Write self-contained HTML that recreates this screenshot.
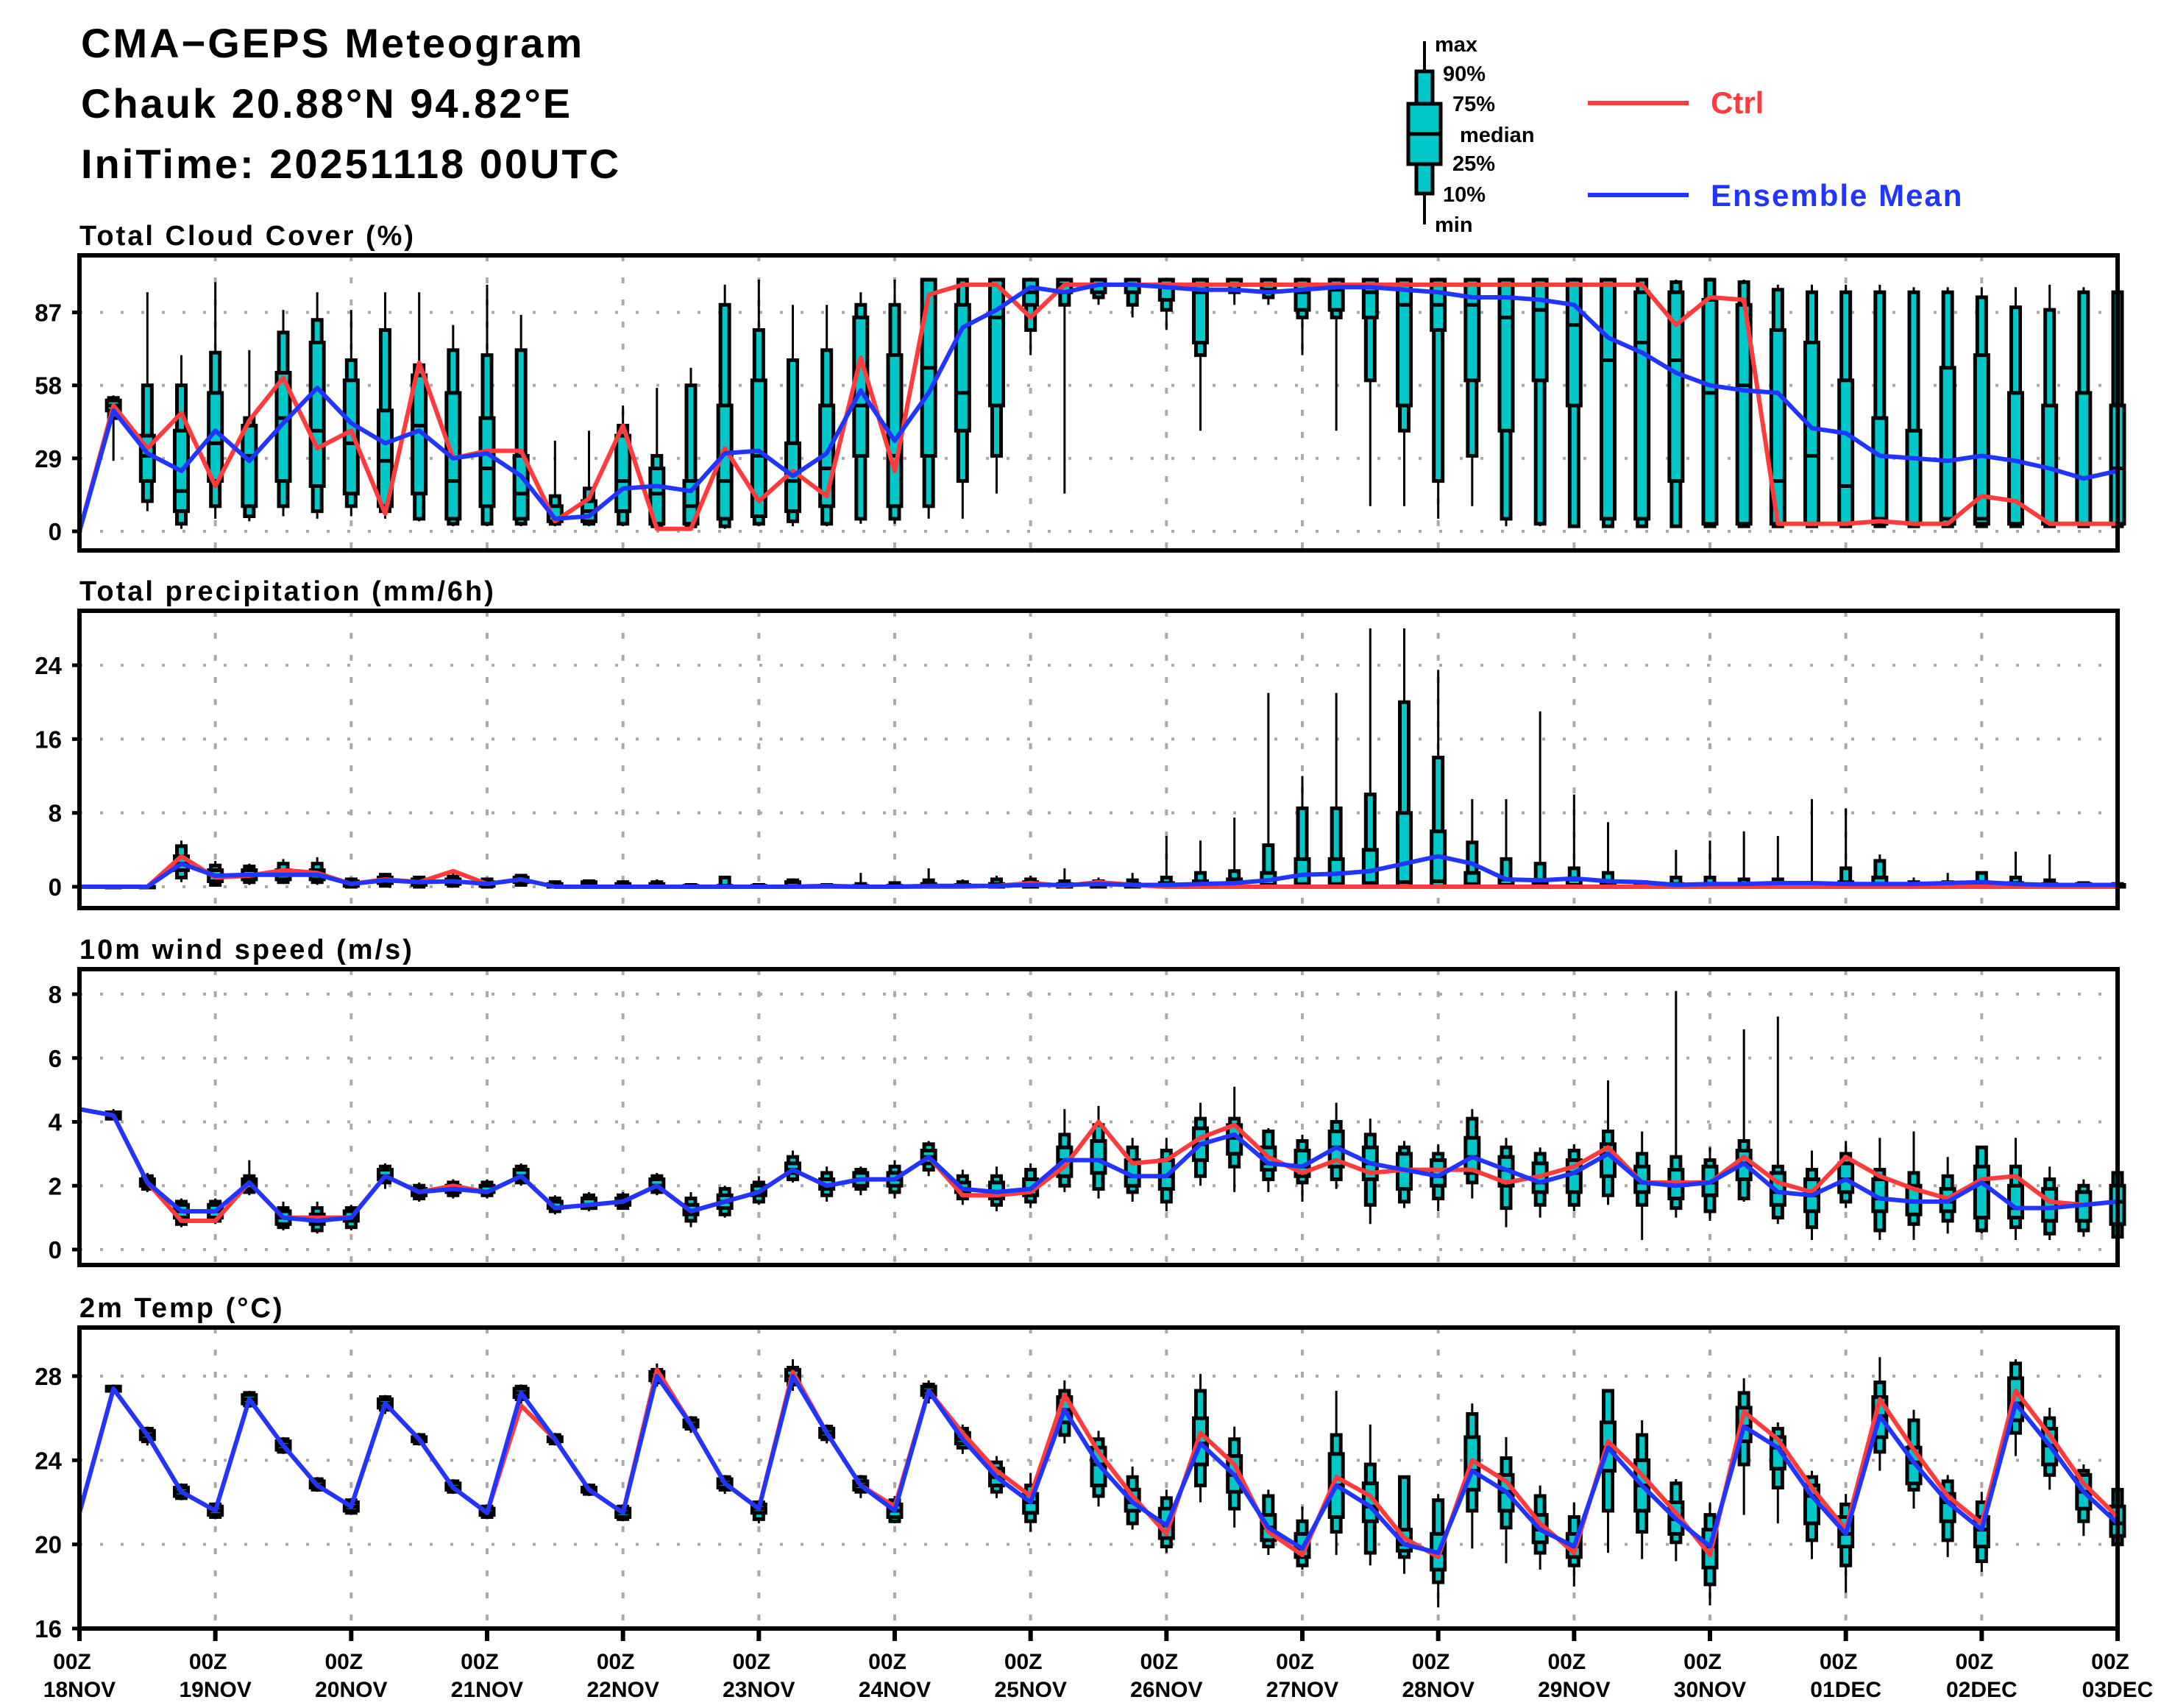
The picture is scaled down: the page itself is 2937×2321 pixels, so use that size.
<!DOCTYPE html>
<html><head><meta charset="utf-8"><style>
html,body{margin:0;padding:0;background:#fff;}
svg{display:block;}
text{font-family:"Liberation Sans",sans-serif;}
</style></head><body>
<svg id="chart" width="2937" height="2321" viewBox="0 0 2937 2321" xmlns="http://www.w3.org/2000/svg">
<rect x="0" y="0" width="2937" height="2321" fill="#fff"/>
<g font-size="56" font-weight="bold" fill="#000" letter-spacing="3">
<text x="110" y="78">CMA−GEPS Meteogram</text>
<text x="110" y="160">Chauk 20.88°N 94.82°E</text>
<text x="110" y="242">IniTime: 20251118 00UTC</text>
</g>
<g>
<g>
<line x1="1936" y1="56" x2="1936" y2="305" stroke="#000" stroke-width="4"/>
<rect x="1925" y="97" width="22" height="166" fill="#00c8c8" stroke="#000" stroke-width="5"/>
<rect x="1914" y="141" width="44" height="82" fill="#00c8c8" stroke="#000" stroke-width="5"/>
<line x1="1914" y1="182" x2="1958" y2="182" stroke="#000" stroke-width="5"/>
</g>
<g font-size="29" font-weight="bold" fill="#000">
<text x="1950" y="70">max</text>
<text x="1961" y="110">90%</text>
<text x="1974" y="151">75%</text>
<text x="1984" y="193">median</text>
<text x="1974" y="232">25%</text>
<text x="1961" y="274">10%</text>
<text x="1950" y="315">min</text>
</g>
<line x1="2158" y1="140" x2="2295" y2="140" stroke="#ff3b3b" stroke-width="6"/>
<text x="2325" y="154" font-size="42" font-weight="bold" fill="#ff3b3b">Ctrl</text>
<line x1="2158" y1="265" x2="2295" y2="265" stroke="#2036ff" stroke-width="6"/>
<text x="2325" y="280" font-size="42" font-weight="bold" fill="#2036ff" letter-spacing="2">Ensemble Mean</text>
</g>
<g id="plots"></g>
</svg>
<script>
// ---------- data ----------
const steps = 61;
const dayLabels = ["18NOV","19NOV","20NOV","21NOV","22NOV","23NOV","24NOV","25NOV","26NOV","27NOV","28NOV","29NOV","30NOV","01DEC","02DEC","03DEC"];

// Cloud cover
const ccTicks = [0,29,58,87];
const ccCtrl = [0,50,33,47,18,44,61,33,40,7,67,29,32,32,4,13,42,1,1,33,12,24,14,69,24,94,98,98,85,98,98,98,98,98,98,98,98,98,98,98,98,98,98,98,98,98,98,82,93,92,3,3,3,4,3,3,14,12,3,3,3];
const ccMean = [0,48,31,24,40,28,43,57,43,35,40,29,31,22,5,6,17,18,16,31,32,22,31,56,36,55,81,88,97,95,98,98,97,96,96,95,96,97,97,96,95,93,93,92,90,77,71,63,58,56,55,41,39,30,29,28,30,28,25,21,24];
const ccMin = [null,28,8,1,5,4,6,5,6,5,4,2,2,2,2,2,2,1,1,1,2,2,2,3,3,5,5,15,70,15,90,85,80,40,90,90,70,40,10,10,5,10,2,2,2,2,2,2,2,2,2,2,2,2,2,2,2,2,2,2,2];
const ccP10 = [null,45,12,3,10,6,10,8,10,8,5,3,3,3,3,3,3,2,2,2,3,4,3,5,5,10,20,30,80,90,93,90,88,70,95,93,85,85,60,40,20,30,5,3,2,2,2,2,2,2,2,2,2,2,2,2,2,2,2,2,2];
const ccP25 = [null,48,20,8,20,10,20,18,15,10,15,5,10,5,4,4,8,3,3,5,6,8,10,30,10,30,40,50,90,95,95,95,92,75,98,96,88,88,85,50,80,60,40,60,50,5,5,20,3,3,3,3,3,3,3,3,3,3,3,3,3];
const ccMed = [null,50,30,16,35,30,45,40,35,28,42,20,25,15,4,8,20,15,10,20,30,20,25,50,30,65,55,85,95,98,98,98,98,95,100,98,95,96,95,90,90,90,85,88,82,68,75,68,55,58,20,30,18,5,3,5,5,3,3,3,25];
const ccP75 = [null,52,38,40,55,42,63,75,60,48,62,55,45,30,10,12,38,25,20,50,60,35,50,85,70,100,90,100,100,100,100,100,100,100,100,100,100,100,100,100,100,100,100,100,100,100,95,95,92,90,80,75,60,45,40,65,70,55,50,55,50];
const ccP90 = [null,53,58,58,71,45,79,84,68,80,66,72,70,72,14,17,42,30,58,90,80,68,72,90,90,100,100,100,100,100,100,100,100,100,100,100,100,100,100,100,100,100,100,100,100,100,100,99,100,99,96,95,95,95,95,95,93,89,88,95,95];
const ccMax = [null,54,95,70,99,72,88,95,88,95,95,82,98,86,36,40,50,57,65,98,100,90,90,95,100,100,100,100,100,100,100,100,100,100,100,100,100,100,100,100,100,100,100,100,100,100,100,100,100,100,98,98,98,98,97,97,97,97,98,97,95];

// Precipitation
const prTicks = [0,8,16,24];
const prCtrl = [0,0,0,3.3,1.0,1.2,1.8,1.5,0.3,0.8,0.5,1.7,0.3,0.8,0,0,0,0,0,0,0,0,0,0,0,0,0,0.1,0.4,0.1,0.5,0.2,0,0,0,0,0,0,0,0,0,0,0,0,0,0,0,0,0,0,0,0,0,0,0,0,0,0,0,0,0];
const prMean = [0,0,0,2.5,1.2,1.3,1.3,1.3,0.3,0.7,0.5,0.6,0.3,0.8,0,0,0,0,0,0,0,0,0.1,0,0,0.1,0.1,0.1,0.2,0.2,0.3,0.2,0.2,0.3,0.4,0.7,1.3,1.4,1.7,2.5,3.3,2.5,0.8,0.7,0.9,0.6,0.5,0.2,0.3,0.3,0.4,0.4,0.3,0.3,0.3,0.4,0.5,0.3,0.2,0.2,0.2];
const prMin = [null,0,0,0.5,0,0.2,0.3,0.2,0,0,0,0,0,0,0,0,0,0,0,0,0,0,0,0,0,0,0,0,0,0,0,0,0,0,0,0,0,0,0,0,0,0,0,0,0,0,0,0,0,0,0,0,0,0,0,0,0,0,0,0,0];
const prP10 = [null,0,0,1.0,0.2,0.5,0.5,0.5,0,0.1,0,0.1,0,0.2,0,0,0,0,0,0,0,0,0,0,0,0,0,0,0,0,0,0,0,0,0,0,0,0,0,0,0,0,0,0,0,0,0,0,0,0,0,0,0,0,0,0,0,0,0,0,0];
const prP25 = [null,0,0,1.8,0.6,0.8,0.8,0.8,0.1,0.4,0.2,0.3,0.1,0.5,0,0.1,0,0,0,0,0,0,0,0,0,0,0,0,0,0,0,0,0,0,0,0,0,0,0,0,0,0,0,0,0,0,0,0,0,0,0,0,0,0,0,0,0,0,0,0,0];
const prMed = [null,0,0,2.5,1.2,1.3,1.3,1.3,0.3,0.7,0.4,0.5,0.2,0.7,0.1,0.2,0.1,0.1,0,0,0,0,0.1,0,0,0,0.1,0,0.2,0,0.1,0,0,0,0,0.2,0.3,0.3,0.4,0.5,0.6,0.3,0.2,0.1,0.2,0.1,0,0,0,0,0,0,0.1,0.2,0,0,0.2,0.1,0.1,0,0];
const prP75 = [null,0,0,3.3,1.8,1.8,1.8,1.8,0.6,1.0,0.8,0.8,0.5,1.0,0.3,0.5,0.3,0.3,0.1,0.1,0.1,0.5,0.1,0.1,0.1,0.3,0.2,0.3,0.5,0.3,0.3,0.3,0.4,0.6,0.8,1.5,3.0,3.0,4.0,8.0,6.0,1.5,0.8,0.5,0.8,0.5,0.2,0.3,0.3,0.3,0.3,0.3,0.5,1.0,0.2,0.2,0.5,0.4,0.3,0.3,0.2];
const prP90 = [null,0,0,4.4,2.3,2.2,2.5,2.5,0.8,1.3,1.0,1.1,0.8,1.2,0.5,0.6,0.5,0.5,0.2,1.0,0.2,0.7,0.2,0.3,0.4,0.7,0.5,0.8,0.8,0.6,0.6,0.7,1.0,1.5,1.7,4.5,8.5,8.5,10,20,14,4.8,3.0,2.5,2.0,1.5,0.5,1.0,1.0,0.8,0.8,0.4,2.0,2.8,0.5,0.5,1.5,1.0,0.7,0.4,0.3];
const prMax = [null,0,0,5.0,2.8,2.5,3.0,3.2,1.0,1.5,1.2,1.5,1.0,1.3,0.7,0.8,0.6,0.8,0.3,1.2,0.3,0.9,0.3,1.5,0.5,2.0,0.8,1.2,1.2,2.0,1.0,1.5,5.5,5.0,7.5,21,12,21,28,28,23.5,9.5,9.5,19,10,7,0.5,4,5,6,5.5,9.5,8.5,3.5,1,1.5,1.5,3.8,3.5,0.5,0.3];

// Wind speed
const wsTicks = [0,2,4,6,8];
const wsCtrl = [4.4,4.2,2.1,0.9,0.9,2.1,1.0,1.0,1.0,2.3,1.8,2.0,1.8,2.3,1.3,1.4,1.5,2.0,1.2,1.5,1.8,2.5,2.0,2.2,2.2,2.9,1.7,1.7,1.8,2.6,4.0,2.7,2.8,3.5,3.9,2.9,2.4,2.8,2.4,2.5,2.5,2.5,2.1,2.3,2.6,3.2,2.1,2.1,2.1,2.9,2.1,1.8,2.9,2.3,1.9,1.6,2.2,2.3,1.5,1.4,1.5];
const wsMean = [4.4,4.2,2.1,1.2,1.2,2.1,1.0,0.9,1.0,2.3,1.8,1.9,1.8,2.3,1.3,1.4,1.5,2.0,1.2,1.5,1.8,2.5,2.0,2.2,2.2,2.9,1.9,1.8,1.9,2.8,2.8,2.3,2.3,3.3,3.6,2.7,2.6,3.2,2.7,2.5,2.3,2.9,2.5,2.1,2.4,3.0,2.1,2.0,2.1,2.7,1.8,1.7,2.2,1.6,1.5,1.5,2.1,1.3,1.3,1.4,1.5];
const wsMin = [null,4.1,1.8,0.7,0.8,1.7,0.6,0.5,0.6,1.9,1.5,1.6,1.6,2.0,1.1,1.2,1.3,1.7,0.7,1.0,1.4,2.1,1.5,1.7,1.6,2.3,1.4,1.2,1.3,1.8,1.6,1.5,1.2,2.0,1.8,1.8,1.5,1.9,0.8,1.3,1.2,1.6,0.7,1.0,1.2,1.4,0.3,1.0,0.9,1.5,0.8,0.3,1.3,0.3,0.3,0.5,0.5,0.3,0.3,0.4,0.2];
const wsP10 = [null,4.1,1.9,0.8,0.9,1.8,0.7,0.6,0.7,2.1,1.6,1.7,1.7,2.1,1.2,1.3,1.3,1.8,0.9,1.1,1.5,2.2,1.7,1.9,1.8,2.5,1.6,1.4,1.5,2.0,1.9,1.8,1.5,2.3,2.6,2.2,2.1,2.2,1.4,1.5,1.6,2.1,1.3,1.4,1.4,1.7,1.4,1.3,1.2,1.6,1.0,0.7,1.5,0.6,0.8,0.9,0.6,0.7,0.5,0.6,0.4];
const wsP25 = [null,4.1,2.0,1.0,1.0,1.9,0.8,0.8,0.9,2.2,1.7,1.8,1.8,2.2,1.3,1.3,1.4,1.9,1.1,1.3,1.7,2.4,1.9,2.0,2.0,2.7,1.8,1.6,1.7,2.3,2.4,2.0,1.9,2.8,3.0,2.5,2.3,2.6,2.2,1.9,2.0,2.4,2.0,1.8,1.8,2.3,1.8,1.6,1.7,2.2,1.4,1.2,1.8,1.2,1.1,1.2,1.0,1.0,0.9,0.9,0.8];
const wsMed = [null,4.2,2.1,1.2,1.2,2.1,1.0,0.9,1.0,2.3,1.8,1.9,1.8,2.3,1.3,1.4,1.5,2.0,1.2,1.5,1.8,2.5,2.0,2.2,2.2,2.9,1.9,1.8,1.9,2.8,2.8,2.3,2.3,3.3,3.5,2.7,2.6,3.2,2.7,2.5,2.3,2.9,2.5,2.1,2.4,3.0,2.1,2.0,2.1,2.7,1.8,1.7,2.2,1.6,1.5,1.5,2.1,1.3,1.3,1.4,1.5];
const wsP75 = [null,4.3,2.2,1.4,1.4,2.2,1.2,1.1,1.2,2.5,1.9,2.0,2.0,2.5,1.5,1.6,1.6,2.2,1.4,1.7,2.0,2.7,2.2,2.4,2.4,3.1,2.1,2.1,2.2,3.2,3.4,2.8,2.8,3.8,3.9,3.2,3.1,3.7,3.2,3.0,2.8,3.5,2.9,2.7,2.8,3.3,2.6,2.5,2.6,3.1,2.4,2.2,2.7,2.2,2.0,1.9,2.6,2.0,1.9,1.8,2.0];
const wsP90 = [null,4.3,2.3,1.5,1.5,2.3,1.3,1.3,1.3,2.6,2.0,2.1,2.1,2.6,1.6,1.7,1.7,2.3,1.6,1.9,2.1,2.9,2.4,2.5,2.6,3.3,2.3,2.3,2.5,3.6,3.9,3.2,3.1,4.1,4.1,3.7,3.4,4.0,3.6,3.2,3.0,4.1,3.2,3.0,3.1,3.7,3.0,2.9,2.8,3.4,2.6,2.5,3.0,2.5,2.4,2.3,3.2,2.6,2.2,2.0,2.4];
const wsMax = [null,4.4,2.4,1.6,1.6,2.8,1.5,1.5,1.4,2.7,2.1,2.2,2.2,2.7,1.7,1.8,1.8,2.4,1.8,2.0,2.3,3.1,2.6,2.6,2.8,3.4,2.5,2.6,2.7,4.4,4.5,3.5,3.5,4.6,5.1,3.8,3.6,4.6,4.1,3.4,3.3,4.4,3.5,3.2,3.3,5.3,3.7,8.1,3.2,6.9,7.3,3.1,3.4,3.5,3.7,2.9,3.2,3.5,2.6,2.2,2.4];

// 2m temperature
const tTicks = [16,20,24,28];
const tCtrl = [21.5,27.4,25.2,22.5,21.6,26.9,24.7,22.8,21.8,26.7,25.0,22.7,21.5,26.6,25.0,22.6,21.5,28.3,25.7,22.9,21.7,28.2,25.3,22.8,21.8,27.3,25.3,23.5,22.3,27.1,24.4,22.3,20.5,25.3,23.8,20.6,19.5,23.2,22.3,20.3,19.4,24.0,23.0,21.0,19.6,24.9,23.3,21.5,19.5,26.3,25.0,22.7,20.7,26.9,24.5,22.3,21.0,27.3,25.2,22.9,21.3];
const tMean = [21.5,27.4,25.2,22.5,21.6,26.9,24.7,22.8,21.8,26.7,25.0,22.7,21.5,27.2,25.0,22.6,21.5,28.0,25.7,22.9,21.7,28.0,25.3,22.8,21.6,27.3,25.0,23.2,22.0,26.4,23.8,22.0,20.9,24.8,23.3,20.8,19.8,22.8,21.8,20.0,19.6,23.5,22.5,20.7,19.9,24.6,22.8,21.2,19.9,25.6,24.6,22.3,20.5,26.1,23.9,22.0,20.7,26.7,24.7,22.5,21.0];
const tMin = [null,27.2,24.7,22.1,21.2,26.5,24.3,22.5,21.4,26.2,24.7,22.4,21.2,26.7,24.7,22.3,21.1,27.5,25.3,22.4,21.0,27.3,24.8,22.2,21.0,26.7,24.3,22.2,20.6,24.8,21.8,20.7,19.6,22.0,20.8,19.5,18.8,19.5,19.0,18.6,17.0,19.8,19.1,18.8,18.0,19.6,19.3,19.2,17.1,21.4,21.0,19.3,17.7,23.5,21.7,19.4,18.7,24.2,22.6,20.4,19.5];
const tP10 = [null,27.3,24.9,22.2,21.3,26.6,24.4,22.6,21.5,26.4,24.8,22.5,21.3,26.9,24.8,22.4,21.2,27.7,25.5,22.6,21.2,27.6,25.0,22.5,21.1,27.0,24.6,22.5,21.1,25.2,22.3,21.0,19.9,22.8,21.7,19.9,19.0,20.6,19.6,19.4,18.2,21.6,20.8,19.6,19.0,21.6,20.6,20.1,18.1,23.8,22.7,20.2,19.0,24.4,22.6,20.2,19.2,25.3,23.3,21.1,20.0];
const tP25 = [null,27.3,25.0,22.3,21.4,26.7,24.5,22.7,21.6,26.5,24.9,22.6,21.4,27.0,24.9,22.5,21.3,27.8,25.6,22.7,21.5,27.8,25.1,22.6,21.3,27.1,24.8,22.8,21.5,25.8,22.8,21.6,20.3,23.8,22.5,20.2,19.4,21.3,21.1,19.7,18.8,22.6,21.6,20.1,19.4,23.5,21.6,20.5,18.9,24.9,23.6,21.0,19.9,25.1,22.9,21.1,19.9,25.9,23.8,21.7,20.4];
const tMed = [null,27.4,25.2,22.5,21.6,26.9,24.7,22.8,21.8,26.7,25.0,22.7,21.5,27.2,25.0,22.6,21.5,28.0,25.7,22.9,21.7,28.0,25.3,22.8,21.6,27.3,25.0,23.2,22.0,26.4,23.8,22.0,20.9,24.8,23.3,20.8,19.8,22.8,21.8,20.0,19.6,23.5,22.5,20.7,19.9,24.6,22.8,21.2,19.9,25.6,24.6,22.3,20.5,26.1,23.9,22.0,20.7,26.7,24.7,22.5,21.0];
const tP75 = [null,27.5,25.4,22.7,21.8,27.1,24.9,23.0,22.0,26.9,25.1,22.9,21.7,27.4,25.1,22.7,21.7,28.2,25.9,23.1,21.9,28.3,25.5,23.0,21.9,27.5,25.3,23.6,22.4,27.0,24.6,22.6,21.7,26.0,24.2,21.4,20.5,24.3,22.9,20.7,20.5,25.1,23.3,21.4,20.5,25.8,24.0,22.0,20.7,26.5,25.1,22.8,21.3,27.0,24.6,22.4,21.3,27.9,25.5,23.3,21.8];
const tP90 = [null,27.5,25.5,22.8,21.9,27.2,25.0,23.1,22.1,27.0,25.2,23.0,21.8,27.5,25.2,22.8,21.8,28.3,26.0,23.2,22.0,28.4,25.6,23.2,22.1,27.6,25.5,23.9,22.8,27.3,25.0,23.2,22.2,27.3,25.0,22.3,21.1,25.2,23.8,23.2,22.1,26.2,24.1,22.3,21.3,27.3,25.2,22.9,21.4,27.2,25.5,23.2,21.9,27.7,25.9,23.0,22.0,28.6,26.0,23.5,22.6];
const tMax = [null,27.6,25.6,22.9,22.0,27.3,25.1,23.2,22.2,27.1,25.3,23.1,21.9,27.6,25.3,22.9,21.9,28.6,26.1,23.3,22.1,28.8,25.7,23.3,22.3,27.8,25.7,24.2,23.4,27.8,25.4,23.7,22.6,28.1,25.6,22.6,21.8,27.3,25.7,23.2,22.4,26.7,25.1,22.8,22.0,27.3,25.9,23.1,22.0,27.9,25.8,23.5,22.4,28.9,26.4,23.3,22.5,28.8,26.5,23.8,23.0];

// ---------- drawing ----------
const NS = "http://www.w3.org/2000/svg";
const plots = document.getElementById("plots");
const X0 = 108, X1 = 2878;
function xAt(i){ return X0 + i*(X1-X0)/(steps-1); }
function mk(tag, attrs, parent){
  const el = document.createElementNS(NS, tag);
  for (const k in attrs) el.setAttribute(k, attrs[k]);
  parent.appendChild(el);
  return el;
}
function makeY(v0, y0, v1, y1){ return v => y0 + (v - v0)*(y1 - y0)/(v1 - v0); }

function panel(cfg){
  const g = mk("g", {}, plots);
  
  
  const y = cfg.y;
  for (let d = 1; d < 15; d++){
    const gl = mk("line", {x1:xAt(d*4), x2:xAt(d*4), y1:cfg.top, y2:cfg.bottom, stroke:"#aaa", "stroke-width":4, "stroke-dasharray":"8 22"}, g);
    
    
  }
  cfg.ticks.forEach(t => {
    const hl = mk("line", {x1:X0, x2:X1, y1:y(t), y2:y(t), stroke:"#aaa", "stroke-width":4, "stroke-dasharray":"4 24"}, g);
    
    
    const tk = mk("line", {x1:X0-10, x2:X0, y1:y(t), y2:y(t), stroke:"#000", "stroke-width":5}, g);
    
    
    const tl = mk("text", {x:X0-24, y:y(t)+12, "text-anchor":"end", "font-size":33, "font-weight":"bold"}, g);
    tl.textContent = t;
    
    
  });
  for (let i = 1; i < steps; i++){
    if (cfg.min[i] == null) continue;
    const x = xAt(i);
    const bx = mk("g", {}, g);
    
    
    mk("line", {x1:x, x2:x, y1:y(cfg.max[i]), y2:y(cfg.min[i]), stroke:"#000", "stroke-width":3}, bx);
    const a = y(cfg.p90[i]), b = y(cfg.p10[i]);
    mk("rect", {x:x-6, y:a, width:12, height:Math.max(b-a,1), fill:"#00c8c8", stroke:"#000", "stroke-width":5}, bx);
    const c = y(cfg.p75[i]), d = y(cfg.p25[i]);
    mk("rect", {x:x-9, y:c, width:18, height:Math.max(d-c,1), fill:"#00c8c8", stroke:"#000", "stroke-width":5}, bx);
    mk("line", {x1:x-9, x2:x+9, y1:y(cfg.med[i]), y2:y(cfg.med[i]), stroke:"#000", "stroke-width":5}, bx);
  }
  const pts = arr => arr.map((v,i) => xAt(i).toFixed(1)+","+y(v).toFixed(1)).join(" ");
  const lc = mk("polyline", {points:pts(cfg.ctrl), fill:"none", stroke:"#ff3b3b", "stroke-width":6, "stroke-linejoin":"round"}, g);
  
  
  const lm = mk("polyline", {points:pts(cfg.mean), fill:"none", stroke:"#2036ff", "stroke-width":6, "stroke-linejoin":"round"}, g);
  
  
  const fr = mk("rect", {x:X0, y:cfg.top, width:X1-X0, height:cfg.bottom-cfg.top, fill:"none", stroke:"#000", "stroke-width":6}, g);
  
  
  const tt = mk("text", {x:X0, y:cfg.top-14, "font-size":38, "font-weight":"bold", "letter-spacing":3}, g);
  tt.textContent = cfg.title;
  
  
}

panel({name:"cloud-cover-panel", title:"Total Cloud Cover (%)", top:347, bottom:748, ticks:ccTicks, y:makeY(0,722,87,424.5),
  ctrl:ccCtrl, mean:ccMean, min:ccMin, p10:ccP10, p25:ccP25, med:ccMed, p75:ccP75, p90:ccP90, max:ccMax});
panel({name:"precipitation-panel", title:"Total precipitation (mm/6h)", top:830, bottom:1234, ticks:prTicks, y:makeY(0,1205,24,904),
  ctrl:prCtrl, mean:prMean, min:prMin, p10:prP10, p25:prP25, med:prMed, p75:prP75, p90:prP90, max:prMax});
panel({name:"wind-speed-panel", title:"10m wind speed (m/s)", top:1317, bottom:1719, ticks:wsTicks, y:makeY(0,1698,8,1351),
  ctrl:wsCtrl, mean:wsMean, min:wsMin, p10:wsP10, p25:wsP25, med:wsMed, p75:wsP75, p90:wsP90, max:wsMax});
panel({name:"temperature-panel", title:"2m Temp (°C)", top:1804, bottom:2213, ticks:tTicks, y:makeY(16,2213,28,1870),
  ctrl:tCtrl, mean:tMean, min:tMin, p10:tP10, p25:tP25, med:tMed, p75:tP75, p90:tP90, max:tMax});

const xg = mk("g", {}, plots);


dayLabels.forEach((lab, d) => {
  const x = xAt(d*4);
  const tk = mk("line", {x1:x, x2:x, y1:2213, y2:2230, stroke:"#000", "stroke-width":6}, xg);
  
  
  const t1 = mk("text", {x:x-10, y:2268, "text-anchor":"middle", "font-size":30, "font-weight":"bold"}, xg);
  t1.textContent = "00Z";
  
  
  const t2 = mk("text", {x:x, y:2306, "text-anchor":"middle", "font-size":30, "font-weight":"bold"}, xg);
  t2.textContent = lab;
  
  
});
</script>
</body></html>
